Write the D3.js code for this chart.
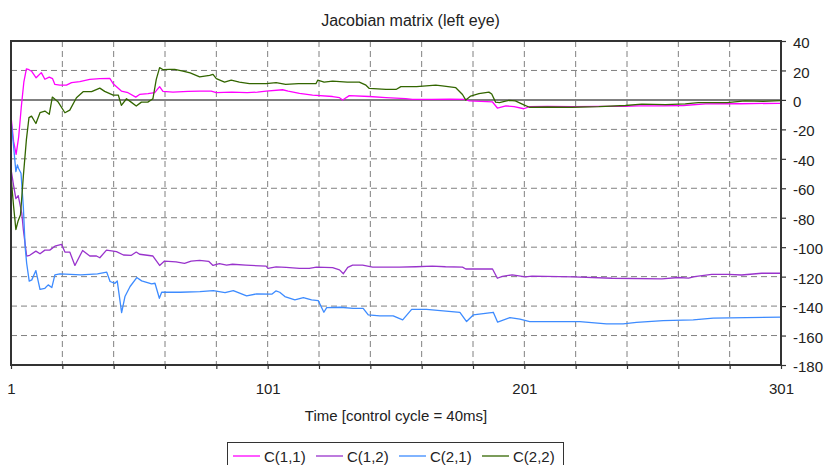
<!DOCTYPE html>
<html>
<head>
<meta charset="utf-8">
<script src="https://cdn.jsdelivr.net/npm/d3@7"></script>
<style>
  body { margin: 0; background: #fff; }
  text { font-family: "Liberation Sans", Arial, sans-serif; fill: #222; }
</style>
</head>
<body>
<script>
// values, [control cycle, value]
const c11 = [[1,-11],[2,-28],[3,-37],[4,-25],[5,-5],[6,12],[7,21],[8,20.5],[9,19.5],[10.8,15],[12.8,18.5],[14.2,14],[15.9,15.5],[17.2,14.4],[18.1,10.5],[20,10],[22.6,10],[24.6,11.7],[27.8,12.4],[31.7,13.9],[35.6,14.4],[39.5,14.6],[40.8,11],[44,6],[46.6,4.9],[49.6,1.9],[51.1,3.7],[54.4,4.2],[57,4.9],[58.9,9],[60.2,5.8],[64.1,5.3],[70,5.8],[74.5,6],[79,6],[81,4.9],[87,5.3],[93,4.9],[97,5.3],[100.4,6],[106.8,6.9],[109,6],[113.4,4.4],[118.5,3.2],[126.3,2.3],[129,1.5],[130.2,-0.1],[132.8,2.9],[140.6,2.3],[147.1,1.6],[154.8,0.9],[157.4,0.4],[165,0.4],[172,0.5],[178.2,0.3],[179.5,-0.7],[188.6,-1.4],[190.5,-5.5],[193.8,-4],[197,-4.6],[200.8,-6],[203,-4.6],[210,-4.4],[220,-4.6],[230,-4.4],[240,-4.3],[245.5,-4],[255,-4],[263,-3.8],[271.6,-2.7],[285,-2.6],[300,-2.3],[301,-2.3]];

const c12 = [[1,-47],[2,-58],[2.9,-67],[3.8,-65],[4.5,-71],[5.2,-77],[5.8,-88],[7.1,-106],[8.3,-105.5],[10.7,-102.7],[12.3,-104.5],[14.2,-102],[16.1,-102],[18.1,-99.3],[20.7,-98.1],[22,-103.3],[23.9,-103.3],[25.9,-112.4],[28.9,-102.2],[31.7,-106],[34.3,-106],[35.6,-107.2],[38.2,-102],[42.1,-103],[44.8,-105.3],[47.9,-105.5],[49.8,-103.3],[51.1,-104.8],[56.3,-106],[58.9,-112.4],[60.8,-109.4],[65.3,-110],[68.6,-111],[71.2,-109.4],[74.5,-109],[78,-109.6],[79.7,-112.4],[82.2,-111.1],[85,-112.2],[87.3,-111.6],[92.5,-112.2],[100.4,-112.9],[101.1,-114.4],[104.3,-113.4],[108.2,-113.7],[113.4,-114.4],[117.2,-114.4],[120,-113.5],[126.3,-113.9],[129,-115.4],[130.5,-118],[132.2,-113.7],[134.1,-112.2],[138,-112.2],[141.9,-113.5],[152.3,-113.5],[158.7,-113.3],[165.1,-112.9],[170.3,-113.3],[176.9,-113.5],[178.2,-114.8],[188.6,-114.8],[190.5,-121.1],[192.4,-119.8],[196.3,-118.8],[201.4,-120.2],[204,-119.6],[220,-120.2],[235.2,-121.1],[254.6,-121.5],[261,-120.6],[265,-121],[267.3,-120],[274,-118.4],[280.5,-118.4],[285.6,-118.9],[293.5,-117.7],[301,-117.7]];

const c21 = [[1,-13.6],[1.9,-29.4],[2.9,-48.7],[3.5,-44.1],[3.9,-46.4],[4.9,-49.8],[5.8,-72.4],[6.5,-99.6],[7.1,-110.9],[8.1,-123],[9.1,-122.2],[10.7,-115.9],[12.3,-128.6],[14.2,-127.9],[15.5,-125.6],[16.9,-127.4],[18.1,-118.8],[20.1,-118.1],[28.2,-118.8],[34.7,-118.1],[38.3,-117],[39.6,-123.3],[41.5,-124.5],[42.4,-123],[44.1,-144.4],[45.4,-133.5],[47.4,-126.7],[50,-120.6],[51.9,-122.9],[55.8,-124.9],[57.1,-124.5],[58.8,-134.7],[59.7,-130.6],[67,-130.6],[74.6,-130.2],[79.8,-129.5],[84.4,-130.8],[87.6,-129.5],[92.8,-133.1],[96.7,-131.7],[102.6,-131.9],[104.2,-129.7],[105.7,-130.6],[107.7,-133.5],[111.6,-135.8],[114.9,-134.2],[118.1,-135.8],[120.7,-136.3],[122.9,-144.2],[124,-141],[129.2,-140.8],[134.3,-141.5],[138.2,-141.5],[140.2,-146],[144.7,-146.7],[149.9,-146.7],[153.6,-149.4],[157.1,-142.2],[162.9,-142.2],[175.9,-144.2],[178.5,-150.5],[181.1,-146],[188.9,-144.2],[190.6,-150.9],[195.4,-147.8],[199.3,-148.9],[203.1,-150.5],[222.6,-150.5],[233,-152.1],[239.5,-152.1],[244.7,-151],[255.1,-149.9],[266.8,-149.4],[274.6,-148.2],[287.6,-147.8],[301,-147.5]];

const c22 = [[1,-52],[2,-72],[2.9,-88],[3.8,-82],[4.7,-78],[5.8,-52],[7,-27],[8,-12],[9,-11],[10.7,-16],[12.3,-8.7],[14.2,-7.6],[15.9,-9.8],[17.1,1.9],[19.4,-1.5],[22,-8.7],[23.9,-6.9],[26.5,1.5],[29.1,5.6],[32.4,5.6],[35.6,8],[37.5,5.8],[40.8,3.3],[42.8,3.3],[44,-3.7],[46,0.8],[47.8,-1.5],[49.8,-4.2],[51.8,-1.5],[54.3,-1.5],[56.3,0.8],[57.6,13.9],[58.9,21.9],[60.3,20.5],[62.8,20.7],[64.8,20.7],[68,19.6],[70.8,18.3],[74.5,15.7],[78.4,16.6],[79.7,17.3],[81,14.4],[84.2,12.1],[86.8,13.4],[90,12.1],[93.9,11],[100.4,11],[104.3,11.7],[108,10.5],[113,11],[119.8,11],[120.5,13.4],[123,12.1],[126.3,12.8],[132,12.1],[136.7,12.1],[139.3,10],[140.6,7.8],[147.1,7.1],[151,7.1],[152.9,9],[159,9],[166.5,10],[169,9.5],[174.3,8.3],[176.9,3.7],[178.2,-0.1],[180.1,2.6],[183.3,4.2],[187.2,5.3],[188.3,4],[189.8,-1.5],[191.3,-1.9],[193.7,-0.8],[195,-0.3],[197.5,-0.6],[200.8,-3.4],[203,-5],[210,-4.8],[219.5,-5],[230,-4.6],[240.4,-3.8],[246.8,-2.8],[256,-3.2],[263.7,-2.7],[268.8,-1.8],[280,-1.8],[287,-0.7],[294,-1],[301,-0.5]];

const seriesNames = ["C(1,1)", "C(1,2)", "C(2,1)", "C(2,2)"];
const seriesColors = ["#ff00ff", "#9933cc", "#3d8bff", "#336600"];
const seriesData = [c11, c12, c21, c22];

const xTickValues = d3.range(1, 302, 20);
const xLabelValues = [1, 101, 201, 301];
const yTickValues = d3.range(-180, 41, 20);

const W = 824, H = 465;
const plot = {left: 11, right: 781, top: 41, bottom: 365};

const svg = d3.select("body").append("svg")
  .attr("width", W)
  .attr("height", H);

const x = d3.scaleLinear().domain([1, 301]).range([plot.left, plot.right]);
const y = d3.scaleLinear().domain([-180, 40]).range([plot.bottom, plot.top]);

// title
svg.append("text")
  .attr("x", 410.5)
  .attr("y", 25.5)
  .attr("text-anchor", "middle")
  .style("font-size", "16px")
  .text("Jacobian matrix (left eye)");

// dashed grid
svg.append("g").selectAll("line")
  .data(xTickValues.filter(d => d > 1 && d < 301))
  .enter().append("line")
  .attr("x1", d => x(d)).attr("x2", d => x(d))
  .attr("y1", plot.top).attr("y2", plot.bottom)
  .attr("stroke", "#808080")
  .attr("stroke-dasharray", "6,4");

svg.append("g").selectAll("line")
  .data(yTickValues.filter(d => d > -180 && d < 40 && d !== 0))
  .enter().append("line")
  .attr("x1", plot.left).attr("x2", plot.right)
  .attr("y1", d => y(d)).attr("y2", d => y(d))
  .attr("stroke", "#808080")
  .attr("stroke-dasharray", "6,4");

// zero line
svg.append("line")
  .attr("x1", plot.left).attr("x2", plot.right)
  .attr("y1", y(0)).attr("y2", y(0))
  .attr("stroke", "#808080")
  .attr("stroke-width", 2);

// series
const line = d3.line()
  .x(d => x(d[0]))
  .y(d => y(d[1]));

seriesData.forEach((data, i) => {
  svg.append("path")
    .datum(data)
    .attr("d", line)
    .attr("fill", "none")
    .attr("stroke", seriesColors[i])
    .attr("stroke-width", 1.3)
    .attr("stroke-linejoin", "round");
});

// plot border
svg.append("rect")
  .attr("x", plot.left).attr("y", plot.top)
  .attr("width", plot.right - plot.left)
  .attr("height", plot.bottom - plot.top)
  .attr("fill", "none")
  .attr("stroke", "#333")
  .attr("stroke-width", 2);

// right y axis
const yAxis = d3.axisRight(y)
  .tickValues(yTickValues)
  .tickSize(5)
  .tickPadding(7)
  .tickFormat(d => String(d));

const yG = svg.append("g")
  .attr("transform", "translate(" + plot.right + ",0)")
  .call(yAxis);
yG.select(".domain").remove();
yG.selectAll("line").attr("stroke", "#333").attr("stroke-width", 1.2);
yG.selectAll("text")
  .attr("dy", "0.44em")
  .style("font-size", "15px")
  .style("font-family", "'Liberation Sans', Arial, sans-serif")
  .attr("fill", "#222");

// bottom x axis
const xAxis = d3.axisBottom(x)
  .tickValues(xTickValues)
  .tickSize(4)
  .tickPadding(14)
  .tickFormat(d => xLabelValues.includes(d) ? String(d) : "");

const xG = svg.append("g")
  .attr("transform", "translate(0," + plot.bottom + ")")
  .call(xAxis);
xG.select(".domain").remove();
xG.selectAll("line").attr("stroke", "#333").attr("stroke-width", 1.2);
xG.selectAll("text")
  .style("font-size", "15px")
  .style("font-family", "'Liberation Sans', Arial, sans-serif")
  .attr("fill", "#222");

// x axis title
svg.append("text")
  .attr("x", (plot.left + plot.right) / 2)
  .attr("y", 421)
  .attr("text-anchor", "middle")
  .style("font-size", "15px")
  .text("Time [control cycle = 40ms]");

// legend
const legend = svg.append("g").attr("transform", "translate(227,442)");
legend.append("rect")
  .attr("x", 0.5).attr("y", 0.5)
  .attr("width", 336).attr("height", 40)
  .attr("fill", "#fff")
  .attr("stroke", "#333");

const item = legend.selectAll("g.item")
  .data(seriesNames)
  .enter().append("g")
  .attr("class", "item")
  .attr("transform", (d, i) => "translate(" + (6 + i * 83) + ",0)");

item.append("line")
  .attr("x1", 0).attr("x2", 27)
  .attr("y1", 14).attr("y2", 14)
  .attr("stroke", (d, i) => seriesColors[i])
  .attr("stroke-width", 1.3);

item.append("text")
  .attr("x", 31)
  .attr("y", 19.5)
  .style("font-size", "15px")
  .text(d => d);
</script>
</body>
</html>
